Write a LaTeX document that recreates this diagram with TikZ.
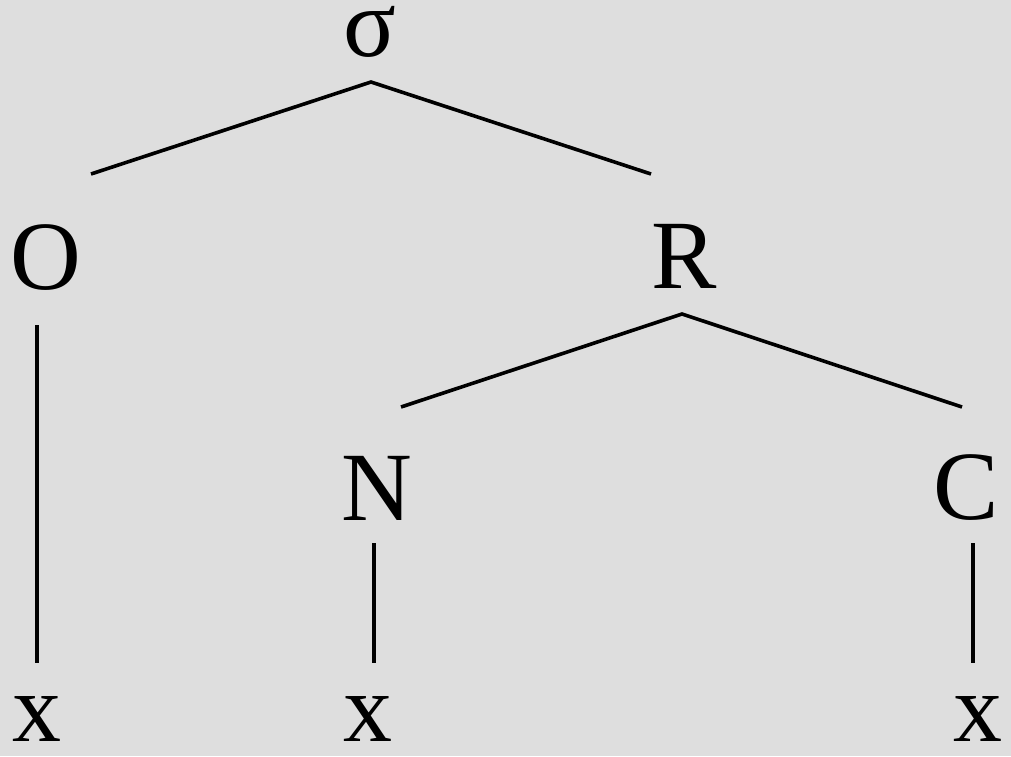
\documentclass[tikz,border=0pt]{standalone}
\usepackage{fontspec}
\setmainfont{Liberation Serif}
\definecolor{bg}{HTML}{DEDEDE}
\tikzset{lab/.style={anchor=base,inner sep=0pt,font=\fontsize{98}{98}\selectfont},
  edge/.style={line width=3.6pt,black}}
\begin{document}
\begin{tikzpicture}[x=1pt,y=-1pt]
\fill[bg] (0,0) rectangle (1011,756);
\useasboundingbox (0,0) rectangle (1011,756);
\node[lab] (s) at (370,56) {σ};
\node[lab] (O) at (46,289) {O};
\node[lab] (R) at (684,288) {R};
\node[lab] (N) at (377,520) {N};
\node[lab] (C) at (966,519) {C};
\node[lab] (x1) at (37,741) {x};
\node[lab] (x2) at (368,741) {x};
\node[lab] (x3) at (978,741) {x};
\coordinate (sb) at (371,82);
\coordinate (Ot) at (91,174);
\coordinate (Rt) at (651,174);
\coordinate (Ob) at (37,325);
\coordinate (x1t) at (37,663);
\coordinate (Rb) at (682,314);
\coordinate (Nt) at (401,407);
\coordinate (Ct) at (962,407);
\coordinate (Nb) at (374,543);
\coordinate (x2t) at (374,663);
\coordinate (Cb) at (973,543);
\coordinate (x3t) at (973,663);
\draw[edge] (Ot) -- (sb) -- (Rt);
\draw[edge] (Ob) -- (x1t);
\draw[edge] (Nt) -- (Rb) -- (Ct);
\draw[edge] (Nb) -- (x2t);
\draw[edge] (Cb) -- (x3t);
\end{tikzpicture}
\end{document}
